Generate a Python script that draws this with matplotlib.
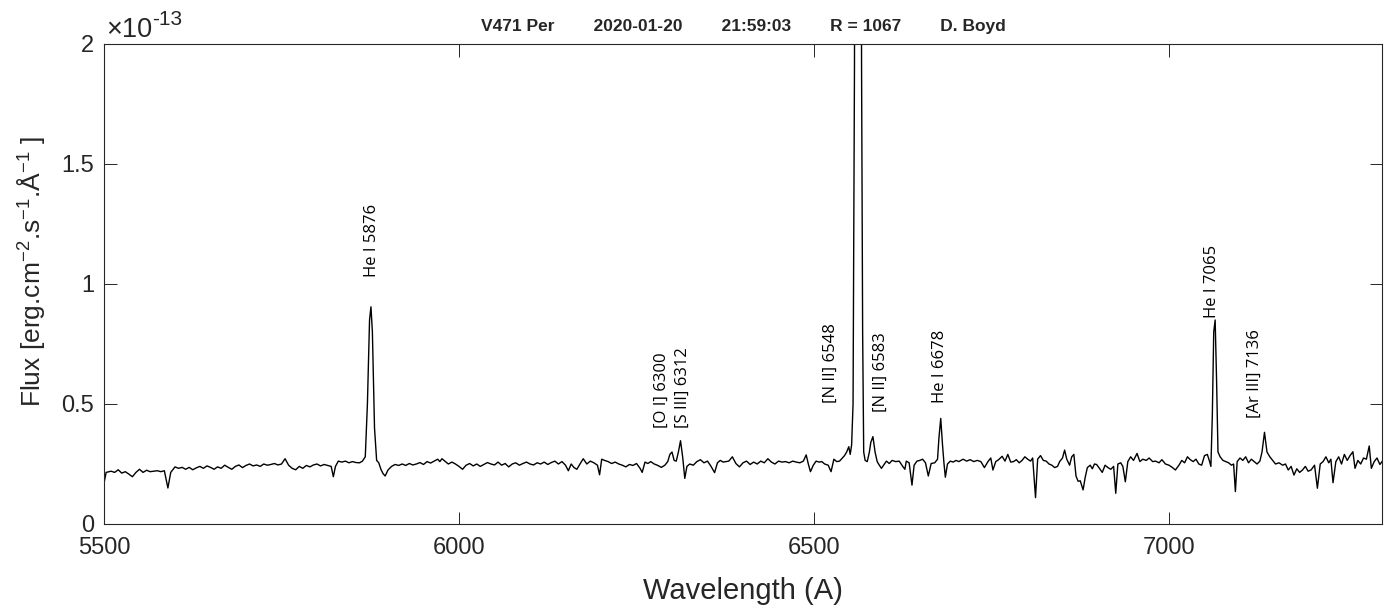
import numpy as np
import matplotlib
matplotlib.use("Agg")
import matplotlib.pyplot as plt

# Spectrum of V471 Per: wavelength (Angstrom) and flux (units of 1e-13 erg/cm2/s/A)
wavelength = [
    5500, 5503, 5510, 5515, 5520, 5525, 5530, 5535, 5540, 5545, 5550, 5555, 5560, 5565,
    5570, 5575, 5580, 5585, 5590, 5594, 5600, 5605, 5610, 5615, 5620, 5625, 5630, 5635,
    5640, 5645, 5650, 5655, 5660, 5665, 5670, 5675, 5680, 5685, 5690, 5695, 5700, 5705,
    5710, 5715, 5720, 5725, 5730, 5735, 5740, 5745, 5750, 5755, 5760, 5765, 5770, 5775,
    5780, 5785, 5790, 5795, 5800, 5805, 5810, 5815, 5820, 5823, 5826, 5830, 5835, 5840,
    5845, 5850, 5855, 5860, 5864, 5868, 5871, 5874, 5876, 5878, 5881, 5884, 5887, 5890,
    5893, 5896, 5900, 5905, 5910, 5915, 5920, 5925, 5930, 5935, 5940, 5945, 5950, 5955,
    5960, 5965, 5970, 5973, 5976, 5980, 5985,
    5990, 5995, 6000, 6005, 6010, 6015, 6020, 6025, 6030, 6035, 6040, 6045, 6050, 6055,
    6060, 6065, 6070, 6075, 6080, 6085, 6090, 6095, 6100, 6105, 6110, 6115, 6120, 6125,
    6130, 6135, 6140, 6145, 6150, 6154, 6158, 6162, 6166, 6170, 6175, 6180, 6185, 6190,
    6195, 6198, 6201, 6205, 6210, 6215, 6220, 6225, 6230, 6235, 6240, 6245, 6250, 6255,
    6258, 6262, 6266, 6270, 6275, 6280, 6285, 6290, 6294, 6297, 6300, 6303, 6306, 6309,
    6312, 6315, 6318, 6321, 6325, 6330, 6335, 6340, 6345, 6350, 6355, 6360, 6364, 6368,
    6372, 6376, 6380, 6385, 6390, 6395, 6400, 6405, 6410, 6415, 6420, 6425, 6430, 6435,
    6440, 6445, 6450,
    6455, 6460, 6465, 6470, 6475, 6480, 6485, 6489, 6492, 6495, 6499, 6503, 6507, 6511,
    6515, 6520, 6524, 6528, 6532, 6536, 6540, 6543, 6546, 6549, 6551, 6553, 6555, 6557,
    6559, 6562, 6565, 6567, 6568.5, 6570, 6572, 6575, 6578, 6580, 6583, 6586, 6589, 6592,
    6595, 6598, 6602, 6606, 6610, 6615, 6620, 6625, 6628, 6630, 6634, 6638, 6641, 6645,
    6649, 6653, 6657, 6661, 6665, 6670, 6674, 6676, 6678.5, 6681, 6683, 6685, 6688, 6692,
    6696, 6700, 6704, 6710, 6715, 6720, 6725, 6730, 6735, 6740, 6745, 6749, 6752, 6756,
    6760, 6765, 6769, 6773, 6777, 6781, 6785, 6789, 6793, 6797, 6801, 6805, 6808, 6812,
    6815, 6819, 6823, 6827, 6831, 6835, 6839, 6843, 6846, 6850, 6853, 6856, 6860, 6863,
    6866, 6869, 6872, 6875, 6879, 6882, 6885, 6889, 6892, 6895, 6898, 6902,
    6906, 6910, 6914, 6918, 6922, 6925, 6928, 6932, 6935, 6938.5, 6942, 6946, 6950, 6955,
    6959, 6963, 6968, 6972, 6977, 6981, 6986, 6990, 6995, 7000, 7005, 7009, 7014, 7018,
    7022, 7026, 7030, 7034, 7038, 7042, 7046, 7050, 7054, 7057, 7059, 7061, 7063, 7065,
    7067, 7069, 7072, 7076, 7080, 7084, 7088, 7091, 7093.5, 7096, 7100, 7104, 7108, 7112,
    7116, 7120, 7124, 7128, 7131, 7134.5, 7138, 7142, 7146, 7150, 7155, 7160, 7164, 7168,
    7172, 7176, 7180, 7184, 7188, 7192, 7196, 7200, 7205, 7209, 7213, 7217, 7221, 7225,
    7228, 7231, 7235, 7239, 7243, 7247, 7251, 7255, 7259, 7262, 7266, 7270, 7274, 7278,
    7282, 7285, 7289, 7293, 7297, 7300,
]
flux = [
    0.170, 0.215, 0.220, 0.215, 0.226, 0.212, 0.218, 0.208, 0.197, 0.215, 0.228, 0.215, 0.224, 0.218,
    0.220, 0.222, 0.218, 0.222, 0.150, 0.215, 0.238, 0.232, 0.236, 0.228, 0.236, 0.226, 0.234, 0.240,
    0.232, 0.242, 0.236, 0.228, 0.238, 0.232, 0.245, 0.236, 0.228, 0.240, 0.246, 0.235, 0.244, 0.250,
    0.242, 0.246, 0.240, 0.250, 0.245, 0.248, 0.252, 0.246, 0.250, 0.272, 0.245, 0.232, 0.226, 0.240,
    0.232, 0.244, 0.238, 0.246, 0.250, 0.242, 0.248, 0.244, 0.240, 0.197, 0.240, 0.262, 0.258, 0.262,
    0.255, 0.260, 0.256, 0.255, 0.262, 0.280, 0.500, 0.850, 0.905, 0.800, 0.400, 0.265, 0.255, 0.228,
    0.210, 0.200, 0.225, 0.240, 0.248, 0.244, 0.250, 0.244, 0.252, 0.246, 0.250, 0.256, 0.248, 0.260,
    0.254, 0.262, 0.270, 0.260, 0.272, 0.262, 0.250,
    0.258, 0.250, 0.240, 0.228, 0.245, 0.252, 0.242, 0.250, 0.240, 0.248, 0.256, 0.250, 0.246, 0.258,
    0.245, 0.252, 0.238, 0.250, 0.255, 0.245, 0.252, 0.258, 0.250, 0.246, 0.255, 0.250, 0.258, 0.248,
    0.256, 0.262, 0.250, 0.260, 0.245, 0.222, 0.250, 0.235, 0.228, 0.248, 0.272, 0.250, 0.262, 0.255,
    0.245, 0.205, 0.270, 0.265, 0.260, 0.252, 0.258, 0.250, 0.245, 0.238, 0.248, 0.244, 0.252, 0.232,
    0.215, 0.258, 0.252, 0.260, 0.250, 0.244, 0.236, 0.245, 0.260, 0.290, 0.300, 0.265, 0.262, 0.300,
    0.347, 0.280, 0.190, 0.240, 0.250, 0.245, 0.260, 0.268, 0.255, 0.262, 0.240, 0.214, 0.255, 0.265,
    0.258, 0.260, 0.262, 0.280, 0.252, 0.238, 0.255, 0.262, 0.248, 0.258, 0.250, 0.262, 0.255, 0.272,
    0.258, 0.250, 0.262,
    0.258, 0.260, 0.255, 0.262, 0.258, 0.255, 0.262, 0.288, 0.250, 0.218, 0.245, 0.262, 0.258, 0.260,
    0.250, 0.245, 0.218, 0.270, 0.260, 0.262, 0.275, 0.285, 0.300, 0.322, 0.290, 0.330, 0.500, 1.900,
    5.000, 8.000, 5.000, 1.900, 0.800, 0.300, 0.265, 0.260, 0.300, 0.340, 0.364, 0.300, 0.260, 0.245,
    0.232, 0.245, 0.262, 0.252, 0.265, 0.260, 0.262, 0.240, 0.228, 0.262, 0.255, 0.162, 0.245, 0.262,
    0.265, 0.270, 0.255, 0.200, 0.252, 0.255, 0.270, 0.360, 0.440, 0.330, 0.255, 0.195, 0.250, 0.262,
    0.258, 0.265, 0.260, 0.270, 0.262, 0.268, 0.260, 0.265, 0.260, 0.235, 0.260, 0.275, 0.225, 0.260,
    0.268, 0.282, 0.262, 0.290, 0.258, 0.260, 0.268, 0.255, 0.265, 0.280, 0.270, 0.262, 0.275, 0.110,
    0.270, 0.285, 0.265, 0.262, 0.250, 0.245, 0.235, 0.240, 0.260, 0.275, 0.308, 0.270, 0.245, 0.280,
    0.290, 0.200, 0.178, 0.180, 0.142, 0.195, 0.235, 0.245, 0.230, 0.250, 0.248, 0.232,
    0.215, 0.245, 0.235, 0.228, 0.240, 0.128, 0.250, 0.255, 0.240, 0.176, 0.260, 0.280, 0.265, 0.294,
    0.260, 0.270, 0.265, 0.275, 0.260, 0.262, 0.255, 0.268, 0.250, 0.245, 0.235, 0.225, 0.245, 0.265,
    0.255, 0.280, 0.268, 0.260, 0.270, 0.250, 0.245, 0.285, 0.290, 0.262, 0.240, 0.450, 0.800, 0.850,
    0.600, 0.300, 0.280, 0.265, 0.260, 0.255, 0.245, 0.250, 0.135, 0.260, 0.275, 0.265, 0.280, 0.255,
    0.270, 0.260, 0.250, 0.262, 0.300, 0.382, 0.300, 0.280, 0.265, 0.250, 0.255, 0.245, 0.250, 0.225,
    0.240, 0.204, 0.230, 0.215, 0.225, 0.240, 0.220, 0.225, 0.245, 0.149, 0.250, 0.260, 0.280, 0.255,
    0.270, 0.172, 0.260, 0.280, 0.250, 0.290, 0.265, 0.285, 0.301, 0.232, 0.265, 0.250, 0.275, 0.270,
    0.325, 0.232, 0.260, 0.275, 0.248, 0.260,
]

# Line identifications: text, label x (Angstrom), label base height (1e-13 units)
line_labels = ["He I 5876", "[O I] 6300", "[S III] 6312", "[N II] 6548",
               "[N II] 6583", "He I 6678", "He I 7065", "[Ar III] 7136"]
label_x = [5877, 6286, 6315, 6524, 6594, 6677, 7060, 7121]
label_y = [1.03, 0.40, 0.40, 0.505, 0.468, 0.505, 0.86, 0.44]

x_ticks = [5500, 6000, 6500, 7000]
y_ticks = [0, 0.5, 1, 1.5, 2]

axis_grey = "#262626"
plt.rcParams["font.family"] = ["Liberation Sans", "DejaVu Sans"]
plt.rcParams["mathtext.fontset"] = "custom"
plt.rcParams["mathtext.rm"] = "Liberation Sans"
plt.rcParams["mathtext.it"] = "Liberation Sans"

W, H = 1394, 610
fig = plt.figure(figsize=(W / 100, H / 100), dpi=100)
ax = fig.add_axes([104 / W, 86 / H, 1278 / W, 480 / H])

ax.plot(wavelength, flux, color="black", lw=1.0)

ax.set_xlim(5500, 7300)
ax.set_ylim(0, 2)
ax.set_xticks(x_ticks)
ax.set_yticks(y_ticks)
ax.set_yticklabels(["0", "0.5", "1", "1.5", "2"])
ax.tick_params(direction="in", length=9, width=0.7, colors=axis_grey,
               labelsize=17, top=True, right=True)
ax.tick_params(axis="x", pad=9)
ax.tick_params(axis="y", pad=7)
for sp in ax.spines.values():
    sp.set_color(axis_grey)
    sp.set_linewidth(0.8)

ax.set_xlabel("Wavelength (A)", fontsize=21, color=axis_grey, labelpad=13)
fig.text(31 / W, 1 - 271 / H, r"Flux [erg.cm$^{-2}$.s$^{-1}$.Å$^{-1}$ ]",
         fontsize=19, color=axis_grey, rotation=90, ha="center", va="center")
ax.set_title("V471 Per        2020-01-20        21:59:03        R = 1067        D. Boyd",
             fontsize=12.5, fontweight="bold", color=axis_grey, pad=9)

# exponent multiplier above the y axis
fig.text(106 / W, 1 - 37 / H, "×10", fontsize=19.5, color=axis_grey,
         ha="left", va="baseline")
fig.text(152 / W, 1 - 25 / H, "-13", fontsize=15, color=axis_grey,
         ha="left", va="baseline")

for txt, lx, ly in zip(line_labels, label_x, label_y):
    ax.text(lx, ly, txt, rotation=90, ha="center", va="bottom",
            fontsize=12, family=["Open Sans", "DejaVu Sans"], color="black")

fig.savefig("out.png", dpi=100)
